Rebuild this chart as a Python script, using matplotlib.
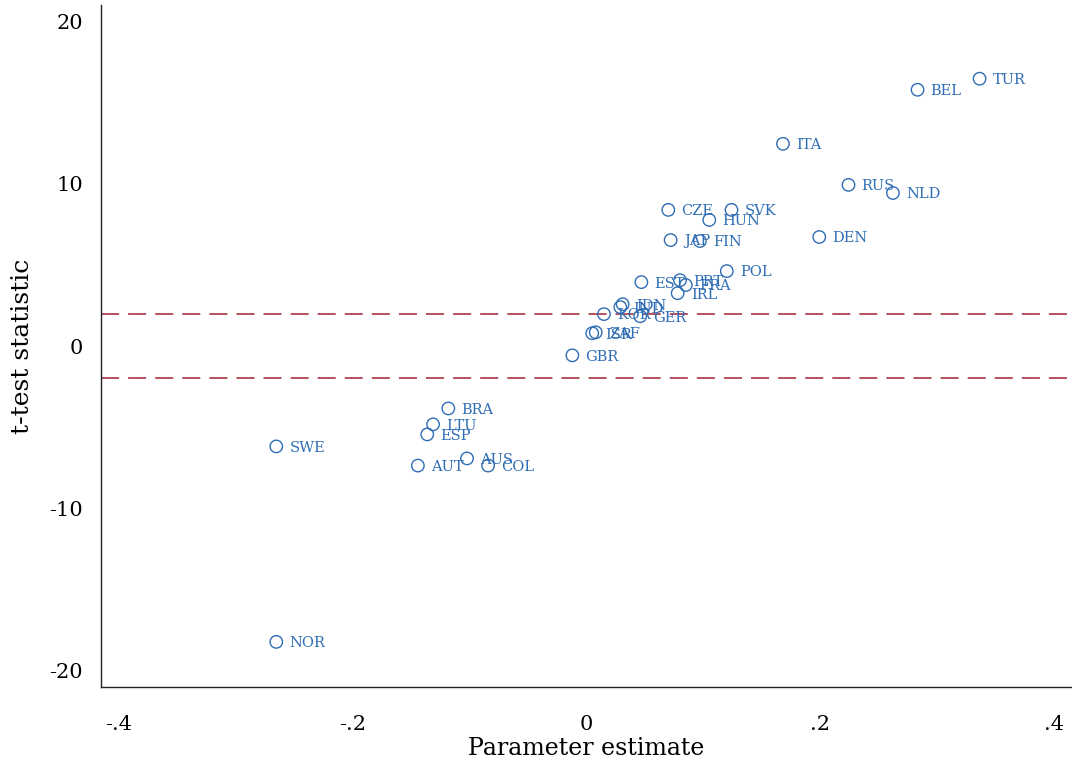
import matplotlib.pyplot as plt

# country estimates: parameter estimate and its t-statistic
countries = ['TUR', 'BEL', 'ITA', 'RUS', 'NLD', 'SVK', 'CZE', 'HUN', 'DEN', 'JAP',
             'FIN', 'POL', 'EST', 'PRT', 'FRA', 'IRL', 'IDN', 'IND', 'KOR', 'GER',
             'ZAF', 'ISR', 'GBR', 'BRA', 'LTU', 'ESP', 'AUS', 'AUT', 'COL', 'SWE',
             'NOR']
estimates = [0.336, 0.283, 0.168, 0.224, 0.262, 0.124, 0.070, 0.105, 0.199, 0.072,
             0.097, 0.120, 0.047, 0.080, 0.085, 0.078, 0.031, 0.029, 0.015, 0.046,
             0.008, 0.005, -0.012, -0.118, -0.131, -0.136, -0.102, -0.144, -0.084, -0.265,
             -0.265]
tstats = [16.48, 15.80, 12.47, 9.94, 9.44, 8.40, 8.40, 7.78, 6.73, 6.54,
          6.48, 4.63, 3.95, 4.07, 3.77, 3.27, 2.59, 2.41, 1.98, 1.85,
          0.86, 0.80, -0.56, -3.83, -4.81, -5.43, -6.91, -7.35, -7.35, -6.17,
          -18.21]
crit = 1.96

xticks = [-0.4, -0.2, 0, 0.2, 0.4]
xticklabels = ['-.4', '-.2', '0', '.2', '.4']
yticks = [-20, -10, 0, 10, 20]

blue = '#2f6db5'
red = '#b0444f'

plt.rcParams['font.family'] = ['DejaVu Serif']
plt.rcParams['axes.unicode_minus'] = False

fig = plt.figure(figsize=(10.72, 7.61), dpi=100)
ax = fig.add_axes([0.094, 0.097, 0.906, 0.896])

ax.scatter(estimates, tstats, s=80, facecolors='none', edgecolors=blue,
           linewidths=1.0, zorder=3)
for name, x, y in zip(countries, estimates, tstats):
    ax.annotate(name, (x, y), xytext=(9.5, -1), textcoords='offset points',
                va='center', ha='left', fontsize=10.5, color=blue, zorder=4)

for c in (crit, -crit):
    ax.axhline(c, color=red, lw=1.3, ls=(0, (10, 5)), zorder=1)

ax.set_xlim(-0.415, 0.415)
ax.set_ylim(-21, 21)
ax.set_xticks(xticks)
ax.set_xticklabels(xticklabels)
ax.set_yticks(yticks)
ax.tick_params(length=0, labelsize=15)
ax.tick_params(axis='x', pad=20)
ax.tick_params(axis='y', pad=13)

for side in ('top', 'right'):
    ax.spines[side].set_visible(False)
for side in ('left', 'bottom'):
    ax.spines[side].set_color('#222222')
    ax.spines[side].set_linewidth(1.0)

ax.set_xlabel('Parameter estimate', fontsize=17, labelpad=2)
ax.set_ylabel('t-test statistic', fontsize=18, labelpad=11)

fig.savefig('out.png', dpi=100, facecolor='white')
